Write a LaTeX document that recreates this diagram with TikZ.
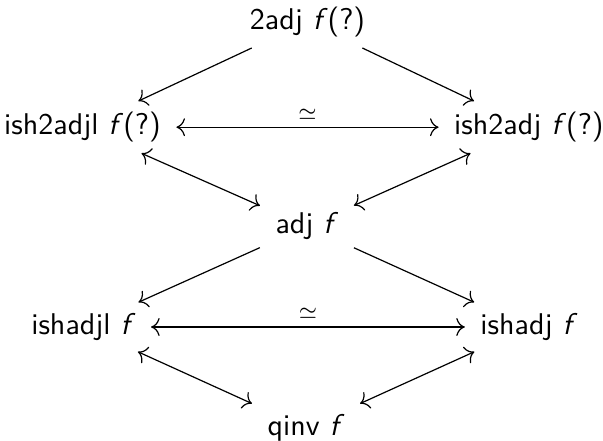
\documentclass[tikz,border=0pt]{standalone}
\usetikzlibrary{arrows.meta}
\newcommand{\fn}{\textit{f\/}}
\begin{document}
\begin{tikzpicture}[
        x=1pt, y=1pt,
        obj/.style={inner xsep=5pt, inner ysep=3.5pt, font=\sffamily},
        arr/.style={-{Computer Modern Rightarrow[scale=1.15]}, line width=0.4pt},
        biarr/.style={{Computer Modern Rightarrow[scale=1.15]}-{Computer Modern Rightarrow[scale=1.15]}, line width=0.4pt},
        eqv/.style={above, font=\scriptsize, inner sep=2.5pt}
    ]
        \useasboundingbox (0,0) rectangle (201,-146.67);

        % Niveau 2-adjoint
        \node[obj] (twoadj) at (102.5,-7.3) {2adj \fn(?)};
        \node[obj] (ishtwol) at (27.5,-42.4) {ish2adjl \fn(?)};
        \node[obj] (ishtwor) at (176.3,-42.4) {ish2adj \fn(?)};

        % Niveau adjoint
        \node[obj] (adj) at (102.3,-75.5) {adj \fn};
        \node[obj] (ishl) at (27.8,-109) {ishadjl \fn};
        \node[obj] (ishr) at (176.3,-109) {ishadj \fn};
        \node[obj] (qinv) at (102,-142.7) {qinv \fn};

        % Liens
        \draw[arr] (twoadj) -- (ishtwol);
        \draw[arr] (twoadj) -- (ishtwor);
        \draw[biarr] (ishtwol) -- node[eqv] {$\simeq$} (ishtwor);
        \draw[biarr] (ishtwol) -- (adj);
        \draw[biarr] (ishtwor) -- (adj);
        \draw[arr] (adj) -- (ishl);
        \draw[arr] (adj) -- (ishr);
        \draw[biarr] (ishl) -- node[eqv] {$\simeq$} (ishr);
        \draw[biarr] (ishl) -- (qinv);
        \draw[biarr] (ishr) -- (qinv);
    \end{tikzpicture}
\end{document}
